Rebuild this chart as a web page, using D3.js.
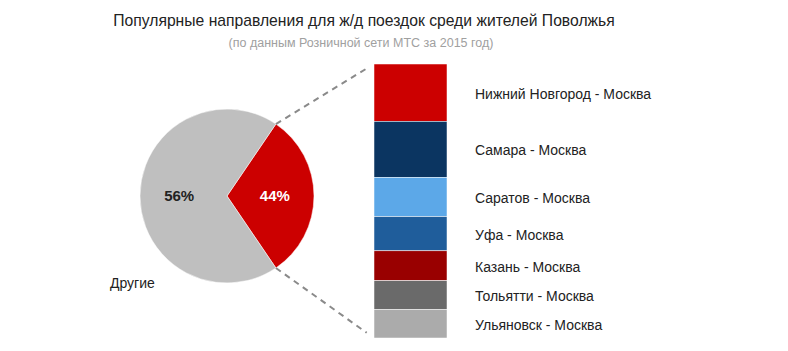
<!DOCTYPE html>
<html>
<head>
<meta charset="utf-8">
<script src="https://cdn.jsdelivr.net/npm/d3@7"></script>
<style>
  html, body { margin: 0; padding: 0; background: #fff; }
  svg { display: block; font-family: "Liberation Sans", Arial, sans-serif; }
</style>
</head>
<body>
<div id="chart"></div>
<script>
const title = "Популярные направления для ж/д поездок среди жителей Поволжья";
const subtitle = "(по данным Розничной сети МТС за 2015 год)";

// pie: printed shares, and slice sizes as drawn in the source
const pieNames = ["Москва", "Другие"];
const pieShares = [44, 56];
const pieDrawn = [31, 69];
const pieColors = ["#cc0000", "#bfbfbf"];

// breakdown of the red slice (top to bottom)
const routes = [
  "Нижний Новгород - Москва",
  "Самара - Москва",
  "Саратов - Москва",
  "Уфа - Москва",
  "Казань - Москва",
  "Тольятти - Москва",
  "Ульяновск - Москва"
];
const routeValues = [9.2, 9.0, 6.3, 5.5, 4.8, 4.6, 4.6];
const routeColors = ["#cc0000", "#0b3561", "#5ca8e8", "#1f5d9b", "#990000", "#6a6a6a", "#ababab"];

const width = 788, height = 351;
const cx = 227, cy = 196, r = 87;
const bar = {x: 374, w: 73, top: 64, bottom: 338};

const svg = d3.select("#chart").append("svg")
  .attr("width", width)
  .attr("height", height);

svg.append("text")
  .attr("x", 364).attr("y", 26)
  .attr("text-anchor", "middle")
  .attr("font-size", 15.7)
  .attr("fill", "#222")
  .text(title);

svg.append("text")
  .attr("x", 361).attr("y", 47)
  .attr("text-anchor", "middle")
  .attr("font-size", 12.5)
  .attr("fill", "#a0a0a0")
  .text(subtitle);

// pie
const pieData = pieNames.map((n, i) => ({name: n, share: pieShares[i], value: pieDrawn[i], color: pieColors[i]}));
const total = d3.sum(pieDrawn);
const span = 2 * Math.PI * pieDrawn[0] / total;
const start = Math.PI / 2 - span / 2;
const arcs = d3.pie().sort(null).value(d => d.value)
  .startAngle(start).endAngle(start + 2 * Math.PI)(pieData);

const arc = d3.arc().innerRadius(0).outerRadius(r);
const labelArc = d3.arc().innerRadius(r * 1.1).outerRadius(0);

const pg = svg.append("g").attr("transform", `translate(${cx},${cy})`);
pg.selectAll("path")
  .data(arcs)
  .join("path")
  .attr("d", arc)
  .attr("fill", d => d.data.color)
  .attr("stroke", "#fff")
  .attr("stroke-width", 0.5);

pg.selectAll("text.pct")
  .data(arcs)
  .join("text")
  .attr("class", "pct")
  .attr("transform", d => `translate(${labelArc.centroid(d)})`)
  .attr("dy", "0.35em")
  .attr("text-anchor", "middle")
  .attr("font-size", 15)
  .attr("font-weight", "bold")
  .attr("fill", (d, i) => i === 0 ? "#fff" : "#222")
  .text(d => d.data.share + "%");

svg.append("text")
  .attr("x", 110).attr("y", 288)
  .attr("font-size", 14)
  .attr("fill", "#222")
  .text(pieNames[1]);

// stacked bar
const y = d3.scaleLinear()
  .domain([0, d3.sum(routeValues)])
  .range([bar.top, bar.bottom]);
const cum = d3.cumsum(routeValues);
const segs = routes.map((name, i) => ({name, v0: cum[i] - routeValues[i], v1: cum[i], color: routeColors[i]}));

svg.append("g").selectAll("rect")
  .data(segs)
  .join("rect")
  .attr("x", bar.x)
  .attr("y", d => y(d.v0))
  .attr("width", bar.w)
  .attr("height", d => y(d.v1) - y(d.v0))
  .attr("fill", d => d.color)
  .attr("stroke", "#fff")
  .attr("stroke-width", 0.5);

svg.append("g").selectAll("text")
  .data(segs)
  .join("text")
  .attr("x", 475)
  .attr("y", d => (y(d.v0) + y(d.v1)) / 2 + 1)
  .attr("dy", "0.35em")
  .attr("font-size", 14)
  .attr("fill", "#222")
  .text(d => d.name);

// connector lines from the slice edges to the bar corners
const a0 = arcs[0].startAngle, a1 = arcs[0].endAngle;
const edge = a => [cx + r * Math.sin(a), cy - r * Math.cos(a)];
const conn = [
  [edge(a0), [bar.x, y(0)]],
  [edge(a1), [bar.x, y(d3.sum(routeValues))]]
].map(([p, q]) => {
  const dx = q[0] - p[0], dy = q[1] - p[1], len = Math.hypot(dx, dy);
  const g = 9;
  return [p, [q[0] - dx / len * g, q[1] - dy / len * g]];
});

svg.append("g").selectAll("line")
  .data(conn)
  .join("line")
  .attr("x1", d => d[0][0]).attr("y1", d => d[0][1])
  .attr("x2", d => d[1][0]).attr("y2", d => d[1][1])
  .attr("stroke", "#8a8a8a")
  .attr("stroke-width", 2)
  .attr("stroke-dasharray", "6,5");
</script>
</body>
</html>
